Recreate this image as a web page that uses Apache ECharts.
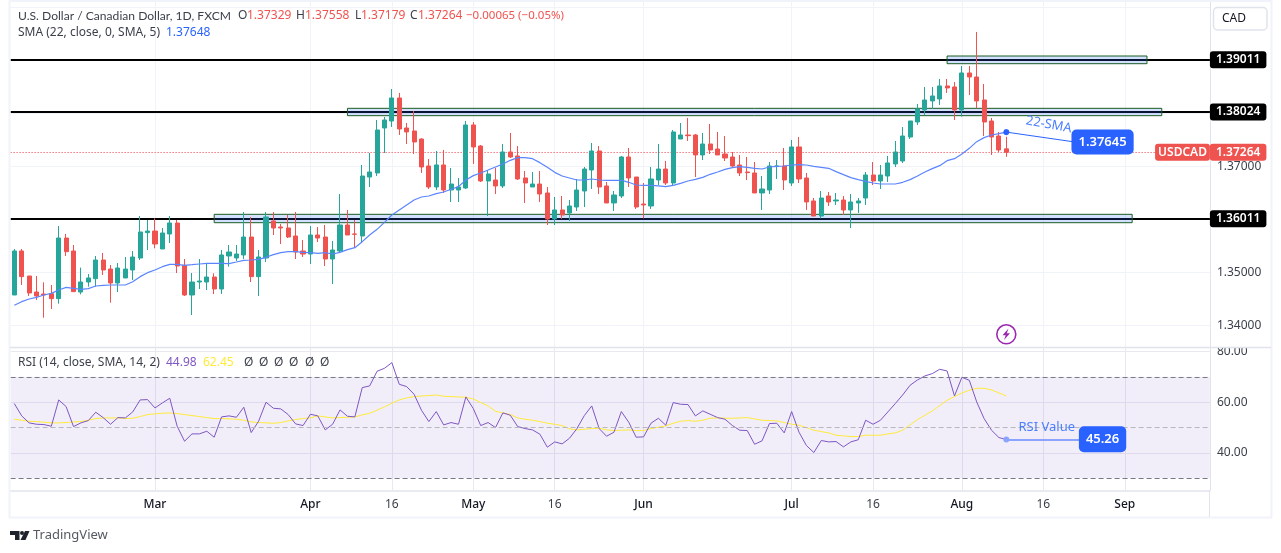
<!DOCTYPE html>
<html>
<head>
<meta charset="utf-8">
<title>USDCAD</title>
<style>html,body{margin:0;padding:0;background:#fff}#chart{width:1281px;height:553px}</style>
<script src="https://cdn.jsdelivr.net/npm/echarts@6/dist/echarts.min.js"></script>
</head>
<body>
<div id="chart"></div>
<script>
const categories = [
  '02-05','02-06','02-07','02-08','02-09','02-12','02-13','02-14','02-15','02-16',
  '02-19','02-20','02-21','02-22','02-23','02-26','02-27','02-28','02-29','03-01',
  '03-04','03-05','03-06','03-07','03-08','03-11','03-12','03-13','03-14','03-15',
  '03-18','03-19','03-20','03-21','03-22','03-25','03-26','03-27','03-28','03-29',
  '04-01','04-02','04-03','04-04','04-05','04-08','04-09','04-10','04-11','04-12',
  '04-15','04-16','04-17','04-18','04-19','04-22','04-23','04-24','04-25','04-26',
  '04-29','04-30','05-01','05-02','05-03','05-06','05-07','05-08','05-09','05-10',
  '05-13','05-14','05-15','05-16','05-17','05-20','05-21','05-22','05-23','05-24',
  '05-27','05-28','05-29','05-30','05-31','06-03','06-04','06-05','06-06','06-07',
  '06-10','06-11','06-12','06-13','06-14','06-17','06-18','06-19','06-20','06-21',
  '06-24','06-25','06-26','06-27','06-28','07-01','07-02','07-03','07-04','07-05',
  '07-08','07-09','07-10','07-11','07-12','07-15','07-16','07-17','07-18','07-19',
  '07-22','07-23','07-24','07-25','07-26','07-29','07-30','07-31','08-01','08-02',
  '08-05','08-06','08-07','08-08','08-09','08-12','08-13','08-14','08-15','08-16',
  '08-19','08-20','08-21','08-22','08-23','08-26','08-27','08-28','08-29','08-30',
  '09-02','09-03','09-04','09-05','09-06','09-09','09-10','09-11','09-12','09-13',
  '09-16','09-17'
];
const tickDates = ['03-01','04-01','04-16','05-01','05-16','06-03','07-01','07-16','08-01','08-16','09-02'];
const tickTexts = ['Mar','Apr','16','May','16','Jun','Jul','16','Aug','16','Sep'];

const opens = [
  1.34572,1.35402,1.34930,1.34628,1.34591,1.34597,1.34503,1.35647,1.35402,1.34628,
  1.34817,1.34880,1.35232,1.35062,1.34798,1.34893,1.35044,1.35270,1.35748,1.35779,
  1.35440,1.35723,1.35930,1.35132,1.34572,1.34817,1.34817,1.34911,1.34685,1.35308,
  1.35270,1.35327,1.35666,1.34918,1.35270,1.35968,1.35855,1.35836,1.35685,1.35402,
  1.35345,1.35704,1.35666,1.35251,1.35402,1.35893,1.35723,1.35685,1.36798,1.36874,
  1.37723,1.37855,1.38289,1.37723,1.37666,1.37515,1.37006,1.36610,1.37025,1.36553,
  1.36553,1.36591,1.37780,1.37383,1.36723,1.36742,1.36629,1.37270,1.37195,1.36780,
  1.36610,1.36666,1.36497,1.36006,1.36176,1.36119,1.36232,1.36534,1.36930,1.37289,
  1.36629,1.36308,1.36440,1.37176,1.36798,1.36289,1.36251,1.36742,1.36949,1.36685,
  1.37515,1.37591,1.37591,1.37214,1.37421,1.37327,1.37232,1.37176,1.37025,1.36893,
  1.36874,1.36497,1.36553,1.37000,1.37006,1.36685,1.37365,1.36780,1.36346,1.36062,
  1.36440,1.36346,1.36364,1.36176,1.36308,1.36402,1.36836,1.36723,1.36817,1.37044,
  1.37100,1.37553,1.37836,1.38063,1.38233,1.38270,1.38516,1.38497,1.38063,1.38761,
  1.38685,1.38251,1.37855,1.37572,1.37329
];
const highs = [
  1.35440,1.35440,1.34930,1.34930,1.34811,1.34760,1.35874,1.35723,1.35515,1.35088,
  1.34968,1.35308,1.35364,1.35138,1.35176,1.35289,1.35402,1.36062,1.35987,1.36018,
  1.35836,1.36062,1.35987,1.35251,1.34987,1.35251,1.35176,1.34981,1.35421,1.35515,
  1.35515,1.36138,1.36044,1.35421,1.36138,1.36138,1.35912,1.36081,1.36138,1.35610,
  1.35874,1.35855,1.35893,1.35591,1.36478,1.36176,1.35987,1.37025,1.37251,1.37874,
  1.37931,1.38459,1.38384,1.37817,1.38044,1.37528,1.37138,1.37289,1.37308,1.36968,
  1.36780,1.37855,1.37836,1.37402,1.36930,1.36968,1.37421,1.37629,1.37383,1.36912,
  1.36893,1.36912,1.36610,1.36421,1.36440,1.36364,1.36761,1.36987,1.37440,1.37383,
  1.36704,1.36534,1.37195,1.37346,1.36798,1.36685,1.36987,1.37421,1.37100,1.37685,
  1.37817,1.37912,1.37610,1.37629,1.37799,1.37648,1.37572,1.37270,1.37214,1.37176,
  1.37081,1.36817,1.37081,1.37119,1.37346,1.37497,1.37553,1.36874,1.36402,1.36534,
  1.36515,1.36497,1.36440,1.36478,1.36402,1.36893,1.37081,1.37025,1.37195,1.37478,
  1.37742,1.37855,1.38176,1.38497,1.38497,1.38648,1.38648,1.38591,1.38893,1.38893,
  1.39535,1.38553,1.37912,1.37648,1.37558
];
const lows = [
  1.34572,1.34760,1.34553,1.34477,1.34144,1.34308,1.34408,1.35308,1.34628,1.34584,
  1.34729,1.34729,1.34949,1.34427,1.34628,1.34893,1.34855,1.35232,1.35421,1.35452,
  1.35440,1.35553,1.34987,1.34553,1.34194,1.34685,1.34666,1.34591,1.34591,1.35106,
  1.35213,1.35251,1.34817,1.34553,1.35194,1.35704,1.35534,1.35647,1.35251,1.35289,
  1.35157,1.35572,1.35119,1.34779,1.35364,1.35704,1.35459,1.35553,1.36610,1.36817,
  1.37251,1.37742,1.37591,1.37421,1.37232,1.36874,1.36572,1.36553,1.36497,1.36327,
  1.36327,1.36572,1.37044,1.36704,1.36062,1.36478,1.36591,1.37157,1.36742,1.36308,
  1.36610,1.36327,1.35893,1.35893,1.36006,1.35968,1.36157,1.36232,1.36572,1.36478,
  1.36308,1.36157,1.36402,1.36610,1.36195,1.36018,1.36195,1.36647,1.36647,1.36629,
  1.37515,1.37478,1.36798,1.37119,1.37232,1.37214,1.37100,1.36968,1.36817,1.36742,
  1.36497,1.36176,1.36478,1.36761,1.36553,1.36629,1.36685,1.36176,1.36062,1.36018,
  1.36251,1.36270,1.36081,1.35836,1.36119,1.36270,1.36647,1.36572,1.36704,1.36987,
  1.37063,1.37515,1.37780,1.37962,1.38082,1.38157,1.38384,1.37874,1.37937,1.38346,
  1.38094,1.37572,1.37214,1.37270,1.37179
];
const closes = [
  1.35402,1.34918,1.34610,1.34553,1.34572,1.34503,1.35647,1.35389,1.34635,1.34817,
  1.34893,1.35232,1.35044,1.34798,1.35081,1.35062,1.35289,1.35761,1.35779,1.35534,
  1.35742,1.35930,1.35119,1.34572,1.34817,1.34836,1.34911,1.34685,1.35327,1.35383,
  1.35345,1.35666,1.34918,1.35289,1.36044,1.35836,1.35836,1.35666,1.35383,1.35345,
  1.35704,1.35647,1.35251,1.35421,1.35893,1.35704,1.35717,1.36817,1.36893,1.37685,
  1.37874,1.38289,1.37704,1.37648,1.37459,1.36987,1.36610,1.37025,1.36553,1.36666,
  1.36610,1.37780,1.37365,1.36723,1.36855,1.36629,1.37270,1.37176,1.36761,1.36685,
  1.36666,1.36478,1.36006,1.36176,1.36081,1.36251,1.36553,1.36949,1.37289,1.36610,
  1.36308,1.36459,1.37176,1.36780,1.36232,1.36270,1.36761,1.36949,1.36685,1.37648,
  1.37591,1.37578,1.37214,1.37421,1.37308,1.37214,1.37157,1.37006,1.36874,1.36880,
  1.36497,1.36572,1.37006,1.37006,1.36742,1.37365,1.36761,1.36327,1.36062,1.36402,
  1.36327,1.36364,1.36176,1.36327,1.36346,1.36836,1.36723,1.36836,1.37063,1.37270,
  1.37572,1.37855,1.38082,1.38251,1.38327,1.38516,1.38478,1.38063,1.38761,1.38685,
  1.38233,1.37836,1.37553,1.37308,1.37264
];
const sma22 = [
  1.34377,1.34446,1.34496,1.34528,1.34572,1.34603,1.34666,1.34716,1.34698,1.34679,
  1.34691,1.34742,1.34754,1.34760,1.34760,1.34760,1.34823,1.34918,1.34993,1.35044,
  1.35106,1.35150,1.35150,1.35132,1.35144,1.35157,1.35169,1.35169,1.35169,1.35163,
  1.35194,1.35226,1.35232,1.35245,1.35283,1.35333,1.35371,1.35389,1.35389,1.35377,
  1.35371,1.35358,1.35371,1.35345,1.35377,1.35427,1.35465,1.35578,1.35704,1.35811,
  1.35943,1.36081,1.36176,1.36270,1.36364,1.36421,1.36440,1.36484,1.36515,1.36566,
  1.36616,1.36742,1.36824,1.36874,1.36930,1.36987,1.37044,1.37113,1.37163,1.37163,
  1.37144,1.37069,1.36981,1.36886,1.36817,1.36780,1.36742,1.36742,1.36761,1.36742,
  1.36736,1.36736,1.36736,1.36698,1.36647,1.36641,1.36641,1.36629,1.36616,1.36641,
  1.36679,1.36723,1.36754,1.36792,1.36849,1.36893,1.36943,1.36975,1.36993,1.36981,
  1.36962,1.36949,1.36987,1.37000,1.37006,1.37025,1.37031,1.37025,1.37000,1.36981,
  1.36962,1.36899,1.36842,1.36786,1.36748,1.36717,1.36685,1.36666,1.36666,1.36666,
  1.36698,1.36748,1.36817,1.36893,1.36956,1.37012,1.37107,1.37144,1.37232,1.37339,
  1.37465,1.37541,1.37591,1.37616,1.37645
];
const rsiValues = [
  59.44,54.59,51.84,51.31,51.18,50.52,60.88,58.26,50.39,51.84,
  52.75,56.03,53.93,51.31,53.93,53.80,56.16,60.88,61.01,57.73,
  59.70,61.54,50.52,44.62,47.51,47.51,48.56,46.20,54.20,54.59,
  54.06,58.00,48.03,52.49,59.96,57.60,57.34,55.11,51.44,50.79,
  55.24,54.59,49.08,51.31,56.95,54.46,54.20,65.73,66.39,72.16,
  73.34,75.56,67.04,66.13,63.11,56.82,52.36,56.29,51.05,51.97,
  51.31,62.06,57.47,50.79,51.97,50.00,55.77,54.85,50.39,49.61,
  49.08,47.38,42.27,44.36,43.58,45.80,49.61,54.72,58.52,49.61,
  46.59,48.16,56.29,52.10,46.20,46.33,51.70,53.67,50.92,59.83,
  59.18,59.05,54.59,56.56,55.24,53.93,53.28,50.79,48.95,48.82,
  43.44,44.76,51.57,51.70,47.90,56.29,48.16,42.92,40.17,44.89,
  44.36,44.49,42.40,44.36,45.20,52.88,51.31,52.88,56.16,59.44,
  62.85,66.65,68.75,70.32,71.24,72.94,72.29,62.45,69.80,68.62,
  60.09,53.54,48.95,46.07,45.26
];
const rsiMa = [
  53.28,52.88,52.49,52.36,52.10,51.84,51.84,51.97,52.23,52.36,
  52.88,53.54,53.80,53.80,53.80,53.54,53.67,54.33,55.11,55.38,
  55.64,55.77,55.51,55.11,54.72,54.33,53.93,53.54,53.54,53.41,
  53.28,52.88,52.23,51.97,51.84,51.70,51.97,52.62,53.15,53.54,
  53.80,54.59,54.20,53.80,53.93,54.06,54.20,54.98,55.64,56.82,
  58.13,59.57,60.88,61.67,62.19,62.45,62.59,62.85,62.32,62.19,
  62.06,61.93,61.27,59.83,58.52,56.42,55.77,55.11,53.80,53.28,
  52.88,52.36,51.70,51.31,50.79,49.48,49.08,49.34,49.61,49.74,
  49.08,48.82,48.95,49.08,48.82,48.82,49.61,50.13,50.66,51.70,
  52.49,52.75,52.49,52.88,53.67,53.80,53.67,53.67,53.80,53.93,
  53.41,52.88,52.75,52.62,51.97,51.31,50.92,50.00,48.95,48.43,
  47.90,46.98,46.72,46.46,46.46,46.98,46.98,46.98,47.51,47.90,
  48.95,51.05,53.15,54.85,56.56,58.65,60.75,62.19,63.63,64.68,
  65.47,65.47,64.81,63.63,62.45
];
const levelPrices = [1.39011, 1.38024, 1.36011];
const zoneStarts = ['07-30', '04-08', '03-13'];
const zoneEnds = ['09-05', '09-09', '09-03'];
const zoneTops = [1.39081, 1.38094, 1.36094];
const zoneBottoms = [1.38936, 1.37955, 1.35936];
const lastPrice = 1.37264;

const font = '"Noto Sans", sans-serif';
const blue = '#2962ff';
const candles = opens.map((o, i) => [o, closes[i], lows[i], highs[i]]);
const showTick = (index, value) => tickDates.includes(value);

function tag(text, color, fill, extra) {
  return Object.assign({
    show: true, formatter: text, color: color, backgroundColor: fill,
    fontFamily: font, fontSize: 12, fontWeight: 600, borderRadius: 3, padding: [3, 6, 2, 6]
  }, extra);
}
function note(date, value, label) {
  return {
    symbol: 'circle', symbolSize: 1, itemStyle: {color: 'transparent'},
    data: [{coord: [date, value], label: label}]
  };
}
function text(x, y, str, color, extra) {
  return {
    type: 'text', x: x, y: y, z: 50, silent: true,
    style: Object.assign({
      text: str, fill: color, font: '12px ' + font, textVerticalAlign: 'middle'
    }, extra)
  };
}

const option = {
  animation: false,
  backgroundColor: '#fff',
  textStyle: {fontFamily: font},
  grid: [
    {left: 10.6, width: 1199.3, top: 2, height: 345.3},
    {left: 10.6, width: 1199.3, top: 347.3, height: 143}
  ],
  xAxis: [
    {
      type: 'category', gridIndex: 0, data: categories,
      axisLine: {show: false}, axisTick: {show: false}, axisLabel: {show: false},
      splitLine: {show: true, interval: showTick, alignWithLabel: true, lineStyle: {color: '#f0f3fa'}}
    },
    {
      type: 'category', gridIndex: 1, data: categories,
      axisLine: {lineStyle: {color: '#e0e3eb', width: 1.5}}, axisTick: {show: false},
      axisLabel: {
        interval: showTick, margin: 8, fontSize: 12, color: '#131722',
        formatter: (value) => {
          const label = tickTexts[tickDates.indexOf(value)];
          return label === '16' ? '{d|16}' : '{m|' + label + '}';
        },
        rich: {
          m: {fontFamily: font, fontSize: 12, fontWeight: 500, color: '#131722'},
          d: {fontFamily: font, fontSize: 12, color: '#3b3f4a'}
        }
      },
      splitLine: {show: true, interval: showTick, alignWithLabel: true, lineStyle: {color: '#e9e8f1'}}
    }
  ],
  yAxis: [
    {
      type: 'value', gridIndex: 0, position: 'right', scale: true, min: 1.33585, max: 1.401,
      axisLine: {show: true, lineStyle: {color: '#e0e3eb'}},
      axisTick: {show: false, customValues: [1.34, 1.35, 1.36, 1.37, 1.38, 1.39, 1.4]},
      axisLabel: {
        customValues: [1.34, 1.35, 1.37], margin: 7, fontSize: 12, color: '#3b3f4a',
        formatter: (v) => v.toFixed(5)
      },
      splitLine: {show: true, lineStyle: {color: '#f0f3fa'}}
    },
    {
      type: 'value', gridIndex: 1, position: 'right', scale: true, min: 25.3, max: 81.6,
      axisLine: {show: true, lineStyle: {color: '#e0e3eb'}},
      axisTick: {show: false, customValues: [40, 60, 80]},
      axisLabel: {
        customValues: [40, 60, 80], margin: 7, fontSize: 12, color: '#3b3f4a',
        formatter: (v) => v.toFixed(2)
      },
      splitLine: {show: true, lineStyle: {color: '#e9e8f1'}}
    }
  ],
  series: [
    {
      name: 'Levels', type: 'line', xAxisIndex: 0, yAxisIndex: 0, data: [], z: 1,
      markLine: {
        silent: true, symbol: 'none', z: 1, precision: 5,
        lineStyle: {color: '#000', width: 2, type: 'solid'},
        data: levelPrices.map((p) => ({
          yAxis: p,
          label: tag(p.toFixed(5), '#fff', '#000', {position: 'end', distance: 0})
        }))
      },
      markArea: {
        silent: true, z: 2,
        itemStyle: {color: 'rgba(41,98,255,0.2)', borderColor: '#1b5e20', borderWidth: 1},
        data: levelPrices.map((p, i) => [
          {xAxis: zoneStarts[i], yAxis: zoneTops[i]},
          {xAxis: zoneEnds[i], yAxis: zoneBottoms[i]}
        ])
      }
    },
    {
      name: 'USDCAD', type: 'candlestick', xAxisIndex: 0, yAxisIndex: 0, data: candles, z: 3,
      barWidth: 4.6,
      itemStyle: {color: '#26a69a', color0: '#ef5350', borderColor: '#26a69a', borderColor0: '#ef5350', borderWidth: 1},
      markLine: {
        silent: true, symbol: 'none', precision: 5, z: 2,
        lineStyle: {color: '#f23645', width: 1, type: [1, 2]},
        data: [{
          yAxis: lastPrice,
          label: tag(lastPrice.toFixed(5), '#fff', '#ef5350', {position: 'end', distance: 0})
        }]
      },
      markPoint: Object.assign(
        note('09-12', lastPrice, tag('USDCAD', '#fff', '#ef5350', {position: 'inside', offset: [-1.5, 0], padding: [3, 3, 2, 3]})),
        {z: 6}
      )
    },
    {
      name: 'SMA 22', type: 'line', xAxisIndex: 0, yAxisIndex: 0, data: sma22, z: 4,
      symbol: 'none', smooth: false, lineStyle: {color: '#5b85ff', width: 1.2},
      markLine: {
        silent: true, symbol: ['circle', 'none'], symbolSize: 6,
        lineStyle: {color: blue, width: 1, type: 'solid'},
        data: [[
          {xAxis: '08-09', yAxis: 1.37645, label: {show: false}},
          {xAxis: '08-22', yAxis: 1.37464}
        ]]
      },
      markPoint: {
        symbol: 'circle', symbolSize: 1, itemStyle: {color: 'transparent'},
        data: [
          {coord: ['08-28', 1.37458], label: tag('1.37645', '#fff', blue, {
            position: 'inside', fontSize: 13, padding: [6, 7, 6, 7], borderRadius: 5})},
          {coord: ['08-19', 1.37779], label: {
            show: true, position: 'inside', formatter: '22-SMA', rotate: -10, offset: [-2, 0],
            color: '#4a7dff', fontSize: 13, fontFamily: font}}
        ]
      }
    },
    {
      name: 'RSI', type: 'line', xAxisIndex: 1, yAxisIndex: 1, data: rsiValues, z: 4,
      symbol: 'none', lineStyle: {color: '#7e57c2', width: 1},
      markArea: {
        silent: true, itemStyle: {color: 'rgba(126,87,194,0.1)'},
        data: [[{yAxis: 70}, {yAxis: 30}]]
      },
      markLine: {
        silent: true, symbol: 'none', label: {show: false},
        data: [
          {yAxis: 70, lineStyle: {color: '#787b86', type: [5, 3], width: 1}},
          {yAxis: 30, lineStyle: {color: '#787b86', type: [5, 3], width: 1}},
          {yAxis: 50, lineStyle: {color: '#b6b7be', type: [5, 3], width: 1}},
          [
            {xAxis: '08-09', yAxis: 45.26, symbol: 'circle', symbolSize: 6,
              lineStyle: {color: '#8ba4ff', width: 2, type: 'solid'}},
            {xAxis: '08-28', yAxis: 45.26, symbol: 'none'}
          ]
        ]
      },
      markPoint: {
        symbol: 'circle', symbolSize: 1, itemStyle: {color: 'transparent'},
        data: [
          {coord: ['08-28', 45.4], label: tag('45.26', '#fff', blue, {
            position: 'inside', fontSize: 13, padding: [7, 7, 6, 7], borderRadius: 5})},
          {coord: ['08-19', 50], label: {
            show: true, position: 'inside', formatter: 'RSI Value', offset: [-4, 0],
            color: '#4a7dff', fontSize: 13, fontFamily: font}}
        ]
      }
    },
    {
      name: 'RSI MA', type: 'line', xAxisIndex: 1, yAxisIndex: 1, data: rsiMa, z: 3,
      symbol: 'none', lineStyle: {color: '#ffeb3b', width: 1}
    }
  ],
  graphic: [
    // frame around the widget
    {type: 'rect', z: 40, silent: true, shape: {x: 9.5, y: 1, width: 1262, height: 516.5},
      style: {fill: 'none', stroke: '#f0f3fa', lineWidth: 2}},
    // hides the top of the 80.00 label, the pane border clips it
    {type: 'rect', z: 41, silent: true, shape: {x: 1211, y: 338, width: 59, height: 9.5}, style: {fill: '#fff'}},
    {type: 'line', z: 42, silent: true, shape: {x1: 10, y1: 347.5, x2: 1271, y2: 347.5},
      style: {stroke: '#e0e3eb', lineWidth: 1.5}},
    {type: 'line', z: 42, silent: true, shape: {x1: 1209.5, y1: 490, x2: 1209.5, y2: 517},
      style: {stroke: '#e0e3eb', lineWidth: 1}},
    // currency button
    {type: 'rect', z: 42, silent: true, shape: {x: 1213.5, y: 7.5, width: 53.5, height: 22.5, r: 4},
      style: {fill: '#fff', stroke: '#e0e3eb', lineWidth: 1.5}},
    text(1222, 18.5, 'CAD', '#131722'),
    // legend rows
    text(18, 16, 'U.S. Dollar / Canadian Dollar, 1D, FXCM', '#3b3f4a', {font: '12.1px Lato, sans-serif'}),
    text(238, 16, 'O', '#3b3f4a'), text(247, 16, '1.37329', '#ef5350'),
    text(296, 16, 'H', '#3b3f4a'), text(305, 16, '1.37558', '#ef5350'),
    text(355, 16, 'L', '#3b3f4a'), text(361, 16, '1.37179', '#ef5350'),
    text(410, 16, 'C', '#3b3f4a'), text(418, 16, '1.37264', '#ef5350'),
    text(466, 16, '\u22120.00065 (\u22120.05%)', '#ef5350', {font: '11.5px ' + font}),
    text(18, 33, 'SMA (22, close, 0, SMA, 5)', '#3b3f4a'),
    text(166, 33, '1.37648', blue),
    text(18, 363, 'RSI (14, close, SMA, 14, 2)', '#3b3f4a'),
    text(166, 363, '44.98', '#7e57c2'),
    text(203, 363, '62.45', '#ffeb3b'),
    text(244, 363, '\u00d8', '#3b3f4a'), text(259, 363, '\u00d8', '#3b3f4a'),
    text(274, 363, '\u00d8', '#3b3f4a'), text(289, 363, '\u00d8', '#3b3f4a'),
    text(305, 363, '\u00d8', '#3b3f4a'), text(320, 363, '\u00d8', '#3b3f4a'),
    // dividends flash icon
    {type: 'circle', z: 42, silent: true, shape: {cx: 1006.3, cy: 334.3, r: 9.5},
      style: {fill: '#fff', stroke: '#9c27b0', lineWidth: 1.6}},
    {type: 'polygon', z: 43, silent: true,
      shape: {points: [[1008.5, 328.5], [1002.5, 335.2], [1005.7, 335.2], [1004, 340], [1010, 333.3], [1006.8, 333.3]]},
      style: {fill: '#9c27b0'}},
    // TradingView logo
    {type: 'polygon', z: 43, silent: true,
      shape: {points: [[10, 531], [19.5, 531], [19.5, 540], [15, 540], [15, 535], [10, 535]]},
      style: {fill: '#1e222d'}},
    {type: 'circle', z: 43, silent: true, shape: {cx: 22, cy: 533, r: 2}, style: {fill: '#1e222d'}},
    {type: 'polygon', z: 43, silent: true,
      shape: {points: [[25, 531], [29.5, 531], [25.5, 540], [20.5, 540]]},
      style: {fill: '#1e222d'}},
    text(33, 535.5, 'TradingView', '#555962', {font: '13px ' + font})
  ]
};

const chart = echarts.init(document.getElementById('chart'), null, {renderer: 'canvas'});
chart.setOption(option);
</script>
</body>
</html>
